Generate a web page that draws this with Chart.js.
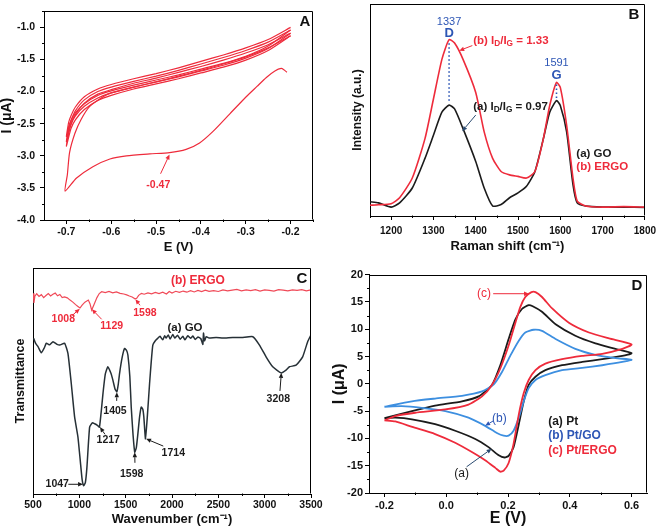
<!DOCTYPE html>
<html>
<head>
<meta charset="utf-8">
<script src="https://cdn.jsdelivr.net/npm/chart.js@4.4.1/dist/chart.umd.min.js"></script>
<style>
  body { margin: 0; background: #fff; width: 661px; height: 532px; position: relative; overflow: hidden; }
  canvas { position: absolute; }
</style>
</head>
<body>
<canvas id="cvA" width="330" height="266" style="left:0;top:0"></canvas>
<canvas id="cvB" width="331" height="266" style="left:330px;top:0"></canvas>
<canvas id="cvC" width="330" height="266" style="left:0;top:266px"></canvas>
<canvas id="cvD" width="331" height="266" style="left:330px;top:266px"></canvas>
<script>
// ---- A: CV of GO reduction (E in V, I in uA) ----
const A_X_TICKS = [-0.7, -0.6, -0.5, -0.4, -0.3, -0.2];
const A_X_MINOR = [-0.65, -0.55, -0.45, -0.35, -0.25, -0.15];
const A_Y_TICKS = [-4.0, -3.5, -3.0, -2.5, -2.0, -1.5, -1.0];
const A_Y_MINOR = [-3.75, -3.25, -2.75, -2.25, -1.75, -1.25, -0.75];
// first cycle (reduction wave then return)
const A_C1_E = [-0.208, -0.215, -0.221, -0.235, -0.254, -0.275, -0.299, -0.336, -0.373, -0.403, -0.433, -0.47, -0.514, -0.566, -0.603, -0.641, -0.678, -0.703,
                -0.698, -0.693, -0.681, -0.667, -0.648, -0.618, -0.6, -0.55, -0.5, -0.45, -0.4, -0.35, -0.3, -0.25, -0.2];
const A_C1_I = [-1.70, -1.66, -1.64, -1.68, -1.78, -1.92, -2.08, -2.35, -2.62, -2.80, -2.90, -2.95, -2.97, -3.00, -3.05, -3.17, -3.35, -3.55,
                -3.30, -2.95, -2.65, -2.43, -2.23, -2.08, -2.02, -1.93, -1.85, -1.76, -1.67, -1.57, -1.46, -1.32, -1.13];
// later cycles share the potential path
const A_LOOP_E = [-0.2, -0.25, -0.3, -0.35, -0.4, -0.45, -0.5, -0.55, -0.6, -0.63, -0.66, -0.68, -0.69, -0.7,
                  -0.695, -0.69, -0.68, -0.66, -0.63, -0.6, -0.55, -0.5, -0.45, -0.4, -0.35, -0.3, -0.25, -0.2];
const A_C2_I = [-1.13, -1.36, -1.51, -1.62, -1.71, -1.80, -1.88, -1.96, -2.06, -2.14, -2.28, -2.44, -2.58, -2.85,
                -2.62, -2.50, -2.36, -2.18, -2.04, -1.97, -1.87, -1.79, -1.70, -1.61, -1.51, -1.40, -1.27, -1.09];
const A_C3_I = [-1.09, -1.33, -1.48, -1.59, -1.68, -1.77, -1.85, -1.93, -2.02, -2.10, -2.23, -2.38, -2.52, -2.78,
                -2.55, -2.45, -2.30, -2.13, -2.00, -1.93, -1.84, -1.76, -1.67, -1.57, -1.47, -1.36, -1.23, -1.04];
const A_C4_I = [-1.04, -1.29, -1.45, -1.56, -1.65, -1.74, -1.82, -1.90, -1.99, -2.06, -2.19, -2.33, -2.46, -2.70,
                -2.48, -2.38, -2.24, -2.08, -1.96, -1.89, -1.80, -1.72, -1.63, -1.53, -1.43, -1.32, -1.19, -1.00];

// ---- B: Raman spectra (cm-1, a.u.) ----
const B_X_TICKS = [1200, 1300, 1400, 1500, 1600, 1700, 1800];
const B_X_MINOR = [1150, 1250, 1350, 1450, 1550, 1650, 1750];
const B_SHIFT = [1150, 1170, 1200, 1220, 1250, 1280, 1300, 1320, 1337, 1350, 1370, 1400, 1420, 1440, 1460, 1480, 1500, 1520,
                 1540, 1560, 1575, 1591, 1600, 1615, 1630, 1640, 1660, 1700, 1750, 1800];
const B_ERGO = [5.1, 5.3, 5.8, 8.6, 17.9, 36.5, 55.2, 73.9, 83.2, 81.6, 73.9, 58.3, 39.7, 27.2, 21.0, 19.4, 18.7, 17.9,
                21.0, 36.5, 52.1, 63.0, 60.7, 42.8, 17.9, 7.0, 4.7, 4.2, 4.4, 4.2];
const B_GO = [6.7, 6.2, 4.2, 6.2, 13.2, 27.2, 38.1, 49.0, 52.3, 50.5, 41.2, 25.7, 13.2, 4.7, 5.4, 8.6, 10.9, 14.0,
              21.0, 36.5, 49.0, 54.4, 52.1, 39.7, 14.8, 6.2, 4.7, 4.2, 4.2, 4.0];

// ---- C: FTIR spectra (cm-1, transmittance a.u.) ----
const C_X_TICKS = [500, 1000, 1500, 2000, 2500, 3000, 3500];
const C_X_MINOR = [750, 1250, 1750, 2250, 2750, 3250];
const C_ERGO_X = [503, 510, 520, 540, 565, 590, 615, 640, 665, 690, 715, 740, 765, 790, 815, 840, 870, 900, 930, 960,
                  985, 1007, 1030, 1060, 1097, 1115, 1133, 1160, 1190, 1215, 1241, 1280, 1320, 1360, 1400, 1440, 1480, 1511,
                  1540, 1570, 1600, 1619, 1640, 1670, 1700, 1740, 1780, 1820, 1860, 1900, 1940, 1970, 2000, 2040, 2080,
                  2120, 2160, 2200, 2240, 2280, 2320, 2360, 2400, 2450, 2500, 2550, 2600, 2650, 2700, 2750, 2800, 2850,
                  2900, 2950, 3000, 3050, 3100, 3150, 3200, 3250, 3300, 3350, 3400, 3450, 3500];
const C_ERGO_Y = [88.8, 84.5, 87.5, 88.6, 87.4, 88.2, 86.9, 87.8, 88.7, 87.6, 88.4, 88.9, 87.7, 88.3, 86.9, 87.2, 86.8, 85.8, 84.9, 83.8,
                  83.0, 82.3, 83.6, 84.9, 85.8, 84.2, 81.4, 84.0, 86.9, 88.7, 89.5, 89.1, 89.6, 89.0, 89.4, 88.8, 88.5, 88.1,
                  87.6, 87.2, 86.4, 86.6, 87.9, 88.8, 88.4, 89.0, 88.6, 89.2, 88.7, 89.3, 88.5, 89.6, 88.9, 89.7, 89.2,
                  89.8, 89.3, 90.0, 89.4, 90.1, 89.6, 90.2, 89.7, 90.0, 89.6, 90.3, 89.9, 90.2, 90.5, 89.9, 90.3, 90.0,
                  90.4, 89.8, 90.3, 90.1, 89.8, 90.4, 90.2, 89.9, 90.3, 90.1, 90.4, 89.9, 90.3];
const C_GO_X = [507, 530, 554, 590, 620, 644, 680, 716, 760, 788, 841, 877, 913, 949, 985, 1010, 1030, 1047, 1065, 1082,
                1111, 1140, 1165, 1195, 1217, 1240, 1255, 1280, 1308, 1340, 1362, 1385, 1405, 1420, 1434, 1460, 1488, 1510,
                1524, 1545, 1560, 1580, 1598, 1615, 1632, 1650, 1668, 1685, 1696, 1714, 1735, 1758, 1775, 1793, 1820, 1847,
                1870, 1900, 1920, 1937, 1960, 1980, 2009, 2030, 2060, 2090, 2117, 2140, 2170, 2200, 2225, 2250, 2280, 2310,
                2333, 2340, 2351, 2370, 2400, 2476, 2550, 2656, 2750, 2872, 2944, 3015, 3087, 3177, 3230, 3267, 3339, 3410,
                3464, 3500];
const C_GO_Y = [68.9, 66.5, 65.2, 62.5, 64.5, 66.7, 66.0, 67.4, 66.2, 65.9, 66.7, 62.2, 48.9, 34.1, 25.2, 14.8, 6.5, 3.7, 5.0, 11.9,
                29.6, 31.5, 31.1, 30.4, 29.6, 38.0, 44.4, 53.0, 56.3, 53.5, 50.4, 46.5, 45.2, 48.5, 53.3, 60.0, 64.4, 63.5,
                61.5, 52.0, 38.5, 26.0, 18.5, 20.5, 26.7, 34.0, 38.5, 37.5, 34.1, 24.4, 35.0, 48.9, 58.0, 65.9, 67.8, 68.9,
                69.8, 68.2, 70.0, 69.0, 70.4, 68.6, 70.6, 69.0, 70.2, 68.5, 69.8, 68.2, 70.0, 68.9, 69.9, 68.4, 69.5, 68.8,
                66.2, 71.2, 67.8, 69.6, 69.0, 69.3, 69.0, 69.3, 69.2, 69.6, 65.9, 60.7, 56.3, 53.6, 54.8, 56.3, 57.0, 60.7,
                67.4, 70.4];

// ---- D: CV of Pt electrodes (E in V, I in uA) ----
const D_X_TICKS = [-0.2, 0.0, 0.2, 0.4, 0.6];
const D_X_MINOR = [-0.1, 0.1, 0.3, 0.5];
const D_Y_TICKS = [-20, -15, -10, -5, 0, 5, 10, 15, 20];
const D_Y_MINOR = [-17.5, -12.5, -7.5, -2.5, 2.5, 7.5, 12.5, 17.5];
const D_PT_E = [-0.2, -0.111, -0.036, 0.051, 0.105, 0.148, 0.175, 0.202, 0.224, 0.245, 0.267, 0.28, 0.31, 0.354, 0.418, 0.483, 0.548, 0.6,
                0.57, 0.505, 0.44, 0.375, 0.321, 0.289, 0.267, 0.251, 0.235, 0.218, 0.202, 0.189, 0.17, 0.137, 0.094, 0.029, -0.036, -0.111, -0.165, -0.2];
const D_PT_I = [-6.3, -5.0, -4.0, -3.2, -2.3, -0.2, 3.4, 8.2, 11.8, 13.7, 14.4, 14.2, 13.2, 10.9, 8.8, 7.4, 6.4, 5.6,
                5.1, 4.5, 4.0, 3.4, 2.5, 1.3, -0.2, -3.2, -7.4, -11.6, -13.2, -13.5, -13.1, -11.6, -10.1, -8.6, -7.4, -6.5, -6.2, -6.3];
const D_GO_E = [-0.2, -0.111, -0.036, 0.051, 0.116, 0.154, 0.181, 0.208, 0.235, 0.256, 0.283, 0.31, 0.354, 0.418, 0.483, 0.548, 0.6,
                0.57, 0.505, 0.44, 0.375, 0.321, 0.289, 0.267, 0.251, 0.235, 0.218, 0.202, 0.186, 0.164, 0.126, 0.072, -0.003, -0.079, -0.144, -0.2];
const D_GO_I = [-4.2, -3.2, -2.7, -2.2, -1.4, -0.1, 2.2, 5.2, 7.9, 9.4, 9.9, 9.7, 8.2, 6.4, 5.3, 4.7, 4.4,
                4.0, 3.4, 2.9, 2.5, 1.6, 0.7, -0.8, -3.2, -6.2, -8.6, -9.5, -9.5, -9.0, -7.7, -6.2, -5.0, -4.4, -4.1, -4.2];
const D_ERGO_E = [-0.2, -0.165, -0.10, -0.003, 0.072, 0.116, 0.148, 0.175, 0.202, 0.224, 0.24, 0.256, 0.276, 0.289, 0.31, 0.343, 0.397, 0.462, 0.527, 0.6,
                  0.57, 0.505, 0.44, 0.375, 0.321, 0.289, 0.267, 0.251, 0.235, 0.218, 0.202, 0.186, 0.175, 0.159, 0.126, 0.083, 0.029, -0.036, -0.11, -0.165, -0.2];
const D_ERGO_I = [-6.7, -5.9, -5.3, -4.7, -3.8, -2.3, -0.2, 2.8, 7.0, 11.2, 14.1, 15.9, 16.8, 16.8, 15.9, 13.8, 11.2, 9.4, 8.3, 7.2,
                  6.4, 5.5, 5.1, 4.5, 3.7, 2.5, 0.7, -1.7, -5.6, -11.0, -14.5, -15.9, -16.1, -15.4, -14.0, -12.5, -10.8, -9.2, -7.9, -6.9, -6.7];

// 颜色 / 字体
const RED = '#ee2b3b';
const BLACK = '#1b1b1b';
const BLUE_LINE = '#3d8fe0';
const BLUE_TEXT = '#2d56b5';
const FONT = '"Liberation Sans", Arial, sans-serif';

Chart.defaults.font.family = FONT;
Chart.defaults.color = '#111';

function pts(xs, ys) {
  return xs.map((x, i) => ({ x: x, y: ys[i] }));
}

function line(data, color, width, tension) {
  return { data: data, showLine: true, borderColor: color, borderWidth: width, pointRadius: 0,
           tension: tension === undefined ? 0.2 : tension, fill: false };
}

// 坐标轴：固定宽/高，让绘图区落在原图位置
function axis(pos, min, max, size, t) {
  const hasTicks = !!t.ticks;
  const cfg = {
    type: 'linear', position: pos, min: min, max: max,
    afterFit: s => { if (pos === 'left') s.width = size; else s.height = size; },
    border: { display: true, color: '#000', width: 1 },
    grid: { drawOnChartArea: false, drawTicks: hasTicks, tickLength: 4, tickColor: '#000', tickWidth: 1 },
    ticks: { display: hasTicks, autoSkip: false, maxRotation: 0, padding: t.pad, color: '#111',
             font: { size: t.tickSize, weight: 'bold' } },
    title: { display: true, text: t.title, color: '#111', font: { size: t.titleSize, weight: 'bold', lineHeight: 1 },
             padding: t.titlePad }
  };
  if (hasTicks) {
    cfg.afterBuildTicks = s => { s.ticks = t.ticks.map(v => ({ value: v })); };
    cfg.ticks.callback = t.fmt;
  }
  return cfg;
}

// 边框 + 次刻度
function framePlugin(minorX, minorY) {
  return {
    id: 'frame',
    afterDraw(chart) {
      const { ctx, chartArea: a, scales: { x, y } } = chart;
      ctx.save();
      ctx.strokeStyle = '#000';
      ctx.lineWidth = 1;
      const l = Math.round(a.left) + 0.5, r = Math.round(a.right) - 0.5;
      const t = Math.round(a.top) + 0.5, b = Math.round(a.bottom) - 0.5;
      ctx.beginPath();
      ctx.moveTo(l, t); ctx.lineTo(r, t); ctx.lineTo(r, b);
      minorX.forEach(v => {
        const p = Math.round(x.getPixelForValue(v)) + 0.5;
        ctx.moveTo(p, b); ctx.lineTo(p, b + 2.5);
      });
      minorY.forEach(v => {
        const p = Math.round(y.getPixelForValue(v)) + 0.5;
        ctx.moveTo(l, p); ctx.lineTo(l - 2.5, p);
      });
      ctx.stroke();
      ctx.restore();
    }
  };
}

function label(ctx, s, x, y, o) {
  ctx.save();
  ctx.font = (o.weight || 'bold') + ' ' + o.size + 'px ' + FONT;
  ctx.fillStyle = o.color;
  ctx.textAlign = o.align || 'center';
  ctx.textBaseline = 'middle';
  ctx.fillText(s, x, y);
  ctx.restore();
}

function arrow(ctx, x1, y1, x2, y2, color) {
  const ang = Math.atan2(y2 - y1, x2 - x1);
  const len = 5, half = 2.2;
  ctx.save();
  ctx.strokeStyle = color;
  ctx.fillStyle = color;
  ctx.lineWidth = 1;
  ctx.beginPath();
  ctx.moveTo(x1, y1);
  ctx.lineTo(x2 - Math.cos(ang) * len, y2 - Math.sin(ang) * len);
  ctx.stroke();
  ctx.beginPath();
  ctx.moveTo(x2, y2);
  ctx.lineTo(x2 - Math.cos(ang) * len - Math.sin(ang) * half, y2 - Math.sin(ang) * len + Math.cos(ang) * half);
  ctx.lineTo(x2 - Math.cos(ang) * len + Math.sin(ang) * half, y2 - Math.sin(ang) * len - Math.cos(ang) * half);
  ctx.closePath();
  ctx.fill();
  ctx.restore();
}

// "(b) I_D/I_G = 1.33" 带下标
function ratioText(ctx, pre, post, x, y, size, color) {
  const parts = [[pre + 'I', 0], ['D', 1], ['/I', 0], ['G', 1], [post, 0]];
  ctx.save();
  ctx.fillStyle = color;
  ctx.textAlign = 'left';
  ctx.textBaseline = 'middle';
  let cx = x;
  parts.forEach(([s, sub]) => {
    const fs = sub ? size * 0.72 : size;
    ctx.font = 'bold ' + fs + 'px ' + FONT;
    ctx.fillText(s, cx, sub ? y + size * 0.3 : y);
    cx += ctx.measureText(s).width;
  });
  ctx.restore();
}

function makePanel(id, datasets, xAxis, yAxis, pad, minorX, minorY, notes) {
  return new Chart(document.getElementById(id), {
    type: 'scatter',
    data: { datasets: datasets },
    options: {
      responsive: false,
      animation: false,
      events: [],
      layout: { padding: pad },
      plugins: { legend: { display: false }, tooltip: { enabled: false } },
      scales: { x: xAxis, y: yAxis }
    },
    plugins: [framePlugin(minorX, minorY), { id: 'notes', afterDraw: notes }]
  });
}

// ---------- A ----------
makePanel('cvA',
  [
    line(pts(A_C1_E, A_C1_I), RED, 1.2),
    line(pts(A_LOOP_E, A_C2_I), RED, 1.2),
    line(pts(A_LOOP_E, A_C3_I), RED, 1.2),
    line(pts(A_LOOP_E, A_C4_I), RED, 1.2)
  ],
  axis('bottom', -0.75, -0.15, 46, { ticks: A_X_TICKS, fmt: v => v.toFixed(1), pad: 2, tickSize: 10.5,
    title: 'E (V)', titleSize: 13, titlePad: { top: 0, bottom: 12.5 } }),
  axis('left', -4.0, -0.75, 44, { ticks: A_Y_TICKS, fmt: v => v.toFixed(1), pad: 5, tickSize: 10.5,
    title: 'I (μA)', titleSize: 14, titlePad: { top: 0, bottom: 0 } }),
  { left: 0, top: 3, right: 17, bottom: 0 },
  A_X_MINOR, A_Y_MINOR,
  chart => {
    const { ctx, chartArea: a, scales: { x, y } } = chart;
    label(ctx, 'A', a.right - 8, a.top + 11, { size: 15, color: '#111' });
    label(ctx, '-0.47', x.getPixelForValue(-0.495), y.getPixelForValue(-3.45), { size: 10.5, color: RED });
    arrow(ctx, x.getPixelForValue(-0.49), y.getPixelForValue(-3.28), x.getPixelForValue(-0.47), y.getPixelForValue(-2.98), RED);
  });

// ---------- B ----------
makePanel('cvB',
  [
    line(pts(B_SHIFT, B_ERGO), RED, 1.6),
    line(pts(B_SHIFT, B_GO), BLACK, 1.6)
  ],
  axis('bottom', 1150, 1800, 50, { ticks: B_X_TICKS, fmt: v => String(v), pad: 5, tickSize: 10,
    title: 'Raman shift (cm⁻¹)', titleSize: 13, titlePad: { top: 0, bottom: 12.8 } }),
  axis('left', 0, 100, 40, { title: 'Intensity (a.u.)', titleSize: 12, titlePad: { top: 22, bottom: 0 } }),
  { left: 0, top: 4, right: 14, bottom: 0 },
  B_X_MINOR, [],
  chart => {
    const { ctx, scales: { x, y } } = chart;
    const X = v => x.getPixelForValue(v), Y = v => y.getPixelForValue(v);
    label(ctx, 'B', X(1774), Y(94.8), { size: 15, color: '#111' });
    label(ctx, '1337', X(1337), Y(91.7), { size: 11, weight: 'normal', color: BLUE_TEXT });
    label(ctx, 'D', X(1337), Y(86.2), { size: 13, color: BLUE_TEXT });
    label(ctx, '1591', X(1591), Y(72.0), { size: 11, weight: 'normal', color: BLUE_TEXT });
    label(ctx, 'G', X(1591), Y(66.5), { size: 13, color: BLUE_TEXT });
    ctx.save();
    ctx.strokeStyle = BLUE_TEXT;
    ctx.lineWidth = 1.6;
    ctx.setLineDash([1.5, 2.5]);
    ctx.beginPath();
    ctx.moveTo(X(1337), Y(81.5)); ctx.lineTo(X(1337), Y(53.5));
    ctx.moveTo(X(1591), Y(62)); ctx.lineTo(X(1591), Y(55));
    ctx.stroke();
    ctx.restore();
    ratioText(ctx, '(b) ', ' = 1.33', X(1394), Y(82.7), 11.5, RED);
    arrow(ctx, X(1392), Y(80.4), X(1361), Y(78), RED);
    ratioText(ctx, '(a) ', ' = 0.97', X(1394), Y(51.6), 11.5, BLACK);
    arrow(ctx, X(1400), Y(47.6), X(1368), Y(40), '#2a4a70');
    label(ctx, '(a) GO', X(1638), Y(29.2), { size: 11.5, color: BLACK, align: 'left' });
    label(ctx, '(b) ERGO', X(1638), Y(23.3), { size: 11.5, color: RED, align: 'left' });
  });

// ---------- C ----------
makePanel('cvC',
  [
    line(pts(C_ERGO_X, C_ERGO_Y), '#f04a58', 1.2, 0),
    line(pts(C_GO_X, C_GO_Y), '#263036', 1.5, 0.15)
  ],
  axis('bottom', 500, 3500, 38, { ticks: C_X_TICKS, fmt: v => String(v), pad: 1, tickSize: 10.5,
    title: 'Wavenumber (cm⁻¹)', titleSize: 13, titlePad: { top: 0, bottom: 6.5 } }),
  axis('left', 0, 100, 33, { title: 'Transmittance', titleSize: 12.5, titlePad: { top: 14, bottom: 0 } }),
  { left: 0, top: 2, right: 19, bottom: 0 },
  C_X_MINOR, [],
  chart => {
    const { ctx, scales: { x, y } } = chart;
    const X = v => x.getPixelForValue(v), Y = v => y.getPixelForValue(v);
    const red = { size: 10.5, color: RED }, blk = { size: 10.5, color: BLACK };
    label(ctx, 'C', X(3403), Y(95.1), { size: 15, color: '#111' });
    label(ctx, '(b) ERGO', X(2280), Y(94.2), { size: 12, color: RED });
    label(ctx, '(a) GO', X(2140), Y(73.6), { size: 11.5, color: BLACK });
    label(ctx, '1008', X(827), Y(77.3), red);
    arrow(ctx, X(918), Y(78.8), X(1005), Y(82), RED);
    label(ctx, '1129', X(1349), Y(74.3), red);
    arrow(ctx, X(1241), Y(77.3), X(1135), Y(81.8), RED);
    label(ctx, '1598', X(1708), Y(80.2), red);
    arrow(ctx, X(1655), Y(83.5), X(1605), Y(86.2), RED);
    label(ctx, '1405', X(1385), Y(36.7), blk);
    arrow(ctx, X(1403), Y(41.2), X(1405), Y(45), BLACK);
    label(ctx, '1217', X(1312), Y(23.9), blk);
    arrow(ctx, X(1277), Y(26.4), X(1222), Y(29.6), BLACK);
    label(ctx, '1598', X(1565), Y(8.7), blk);
    arrow(ctx, X(1600), Y(13.8), X(1598), Y(18.5), BLACK);
    label(ctx, '1714', X(2014), Y(18.3), blk);
    arrow(ctx, X(1906), Y(21.2), X(1720), Y(24.4), BLACK);
    label(ctx, '1047', X(762), Y(4.3), blk);
    arrow(ctx, X(881), Y(4.3), X(1040), Y(4.3), BLACK);
    label(ctx, '3208', X(3147), Y(41.9), blk);
    arrow(ctx, X(3165), Y(45.6), X(3180), Y(53.6), BLACK);
  });

// ---------- D ----------
makePanel('cvD',
  [
    line(pts(D_ERGO_E, D_ERGO_I), RED, 1.8),
    line(pts(D_GO_E, D_GO_I), BLUE_LINE, 1.8),
    line(pts(D_PT_E, D_PT_I), BLACK, 1.8)
  ],
  axis('bottom', -0.25, 0.65, 39, { ticks: D_X_TICKS, fmt: v => v.toFixed(1), pad: 2, tickSize: 11,
    title: 'E (V)', titleSize: 16, titlePad: { top: 0, bottom: 5 } }),
  axis('left', -20, 20, 39, { ticks: D_Y_TICKS, fmt: v => String(v), pad: 2, tickSize: 11,
    title: 'I (μA)', titleSize: 16, titlePad: { top: 1.3, bottom: 0 } }),
  { left: 0, top: 4, right: 14, bottom: 0 },
  D_X_MINOR, D_Y_MINOR,
  chart => {
    const { ctx, scales: { x, y } } = chart;
    const X = v => x.getPixelForValue(v), Y = v => y.getPixelForValue(v);
    label(ctx, 'D', X(0.617), Y(18.0), { size: 15, color: '#111' });
    label(ctx, '(c)', X(0.122), Y(16.5), { size: 12, weight: 'normal', color: RED });
    arrow(ctx, X(0.152), Y(16.5), X(0.268), Y(16.5), RED);
    label(ctx, '(b)', X(0.172), Y(-6.3), { size: 12, weight: 'normal', color: BLUE_TEXT });
    arrow(ctx, X(0.152), Y(-6.8), X(0.126), Y(-7.7), BLUE_TEXT);
    label(ctx, '(a)', X(0.05), Y(-16.4), { size: 12, weight: 'normal', color: BLACK });
    arrow(ctx, X(0.066), Y(-15.2), X(0.147), Y(-11.9), '#2a4a70');
    label(ctx, '(a) Pt', X(0.33), Y(-6.9), { size: 12, color: BLACK, align: 'left' });
    label(ctx, '(b) Pt/GO', X(0.33), Y(-9.5), { size: 12, color: BLUE_TEXT, align: 'left' });
    label(ctx, '(c) Pt/ERGO', X(0.33), Y(-12.2), { size: 12, color: RED, align: 'left' });
  });
</script>
</body>
</html>
